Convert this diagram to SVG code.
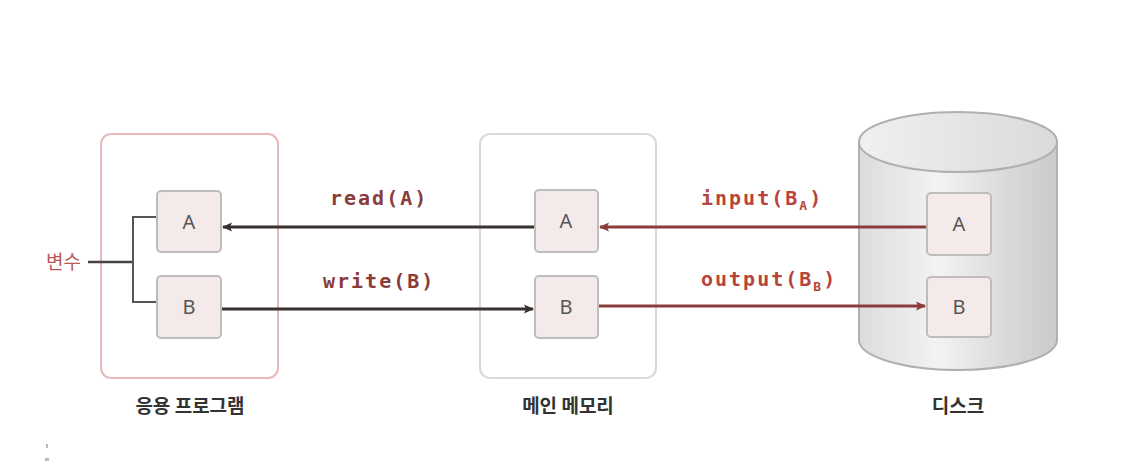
<svg xmlns="http://www.w3.org/2000/svg" width="1130" height="474" viewBox="0 0 1130 474">
<style>
.cell{fill:#f5eaea;stroke:#bdbdbd;stroke-width:2}
.cellt{font-family:"Noto Sans","Liberation Sans",sans-serif;font-size:20px;fill:#555;text-anchor:middle}
.cap{font-family:"Noto Sans CJK KR","Noto Sans",sans-serif;font-size:19px;font-weight:bold;fill:#333;text-anchor:middle}
.code{font-family:"DejaVu Sans Mono","Liberation Mono",monospace;font-size:20px;font-weight:bold;letter-spacing:2px}
.dk{stroke:#3a3030;stroke-width:3;fill:none}
.rd{stroke:#8a3c3a;stroke-width:3;fill:none}
</style>
<defs>
<marker id="ah" markerWidth="11" markerHeight="11" refX="9" refY="5.5" orient="auto" markerUnits="userSpaceOnUse" viewBox="0 0 11 11"><path d="M0,1 L10,5.5 L0,10 L2,5.5 z" fill="#3a3030"/></marker>
<marker id="ahr" markerWidth="11" markerHeight="11" refX="9" refY="5.5" orient="auto" markerUnits="userSpaceOnUse" viewBox="0 0 11 11"><path d="M0,1 L10,5.5 L0,10 L2,5.5 z" fill="#8a3c3a"/></marker>
<linearGradient id="cyl" x1="0" y1="0" x2="1" y2="0">
<stop offset="0" stop-color="#dcdcdc"/>
<stop offset="0.4" stop-color="#f3f3f3"/>
<stop offset="0.75" stop-color="#d9d9d9"/>
<stop offset="1" stop-color="#cbcbcb"/>
</linearGradient>
<linearGradient id="cyltop" x1="0" y1="0" x2="1" y2="0">
<stop offset="0" stop-color="#f0f0f0"/>
<stop offset="1" stop-color="#dadada"/>
</linearGradient>
</defs>
<rect width="1130" height="474" fill="#fff"/>

<g id="app">
<rect x="101" y="134" width="177" height="244" rx="10" fill="#fff" stroke="#e8b9b9" stroke-width="2"/>
<text class="cap" x="190" y="413">응용 프로그램</text>
</g>
<g id="mem">
<rect x="480" y="134" width="176" height="244" rx="10" fill="#fff" stroke="#d9d9d9" stroke-width="2"/>
<text class="cap" x="568" y="413">메인 메모리</text>
</g>
<g id="disk">
<path d="M859,142 L859,340 A99,30 0 0 0 1057,340 L1057,142 Z" fill="url(#cyl)" stroke="#b0b0b0" stroke-width="2"/>
<ellipse cx="958" cy="142" rx="99" ry="30" fill="url(#cyltop)" stroke="#b0b0b0" stroke-width="2"/>
<text class="cap" x="958" y="413">디스크</text>
</g>

<g id="connectors">
<polyline points="88,262 133,262" fill="none" stroke-width="2.5" stroke="#444"/>
<polyline points="157,217 133,217 133,302 157,302" fill="none" stroke="#555" stroke-width="2"/>
<line x1="535" y1="227" x2="223" y2="227" class="dk" marker-end="url(#ah)"/>
<line x1="221" y1="309" x2="533" y2="309" class="dk" marker-end="url(#ah)"/>
<line x1="927" y1="227" x2="600" y2="227" class="rd" marker-end="url(#ahr)"/>
<line x1="598" y1="306" x2="925" y2="306" class="rd" marker-end="url(#ahr)"/>
</g>

<g id="app-A"><rect class="cell" x="157" y="191" width="64" height="61" rx="4"/><text class="cellt" x="189" y="229">A</text></g>
<g id="app-B"><rect class="cell" x="157" y="276" width="64" height="62" rx="4"/><text class="cellt" x="189" y="314">B</text></g>
<g id="mem-A"><rect class="cell" x="535" y="190" width="63" height="62" rx="4"/><text class="cellt" x="566" y="228">A</text></g>
<g id="mem-B"><rect class="cell" x="535" y="276" width="63" height="62" rx="4"/><text class="cellt" x="566" y="314">B</text></g>
<g id="disk-A"><rect class="cell" x="927" y="193" width="64" height="62" rx="4"/><text class="cellt" x="959" y="231">A</text></g>
<g id="disk-B"><rect class="cell" x="927" y="277" width="64" height="60" rx="4"/><text class="cellt" x="959" y="314">B</text></g>

<g id="labels">
<text x="46" y="269" font-family="'Noto Sans CJK KR',sans-serif" font-size="19" fill="#b55a58">변수</text>
<text class="code" x="330" y="205" fill="#8a3c3a">read(A)</text>
<text class="code" x="323" y="288" fill="#8a3c3a">write(B)</text>
<text class="code" x="701" y="205" fill="#b5453c">input(B<tspan font-size="13" dy="5">A</tspan><tspan dy="-5">)</tspan></text>
<text class="code" x="701" y="286" fill="#b5453c">output(B<tspan font-size="13" dy="5">B</tspan><tspan dy="-5">)</tspan></text>
</g>
<g id="marks" fill="#bbb">
<rect x="46" y="444" width="2" height="4"/>
<rect x="45" y="458" width="4" height="3"/>
</g>
</svg>
